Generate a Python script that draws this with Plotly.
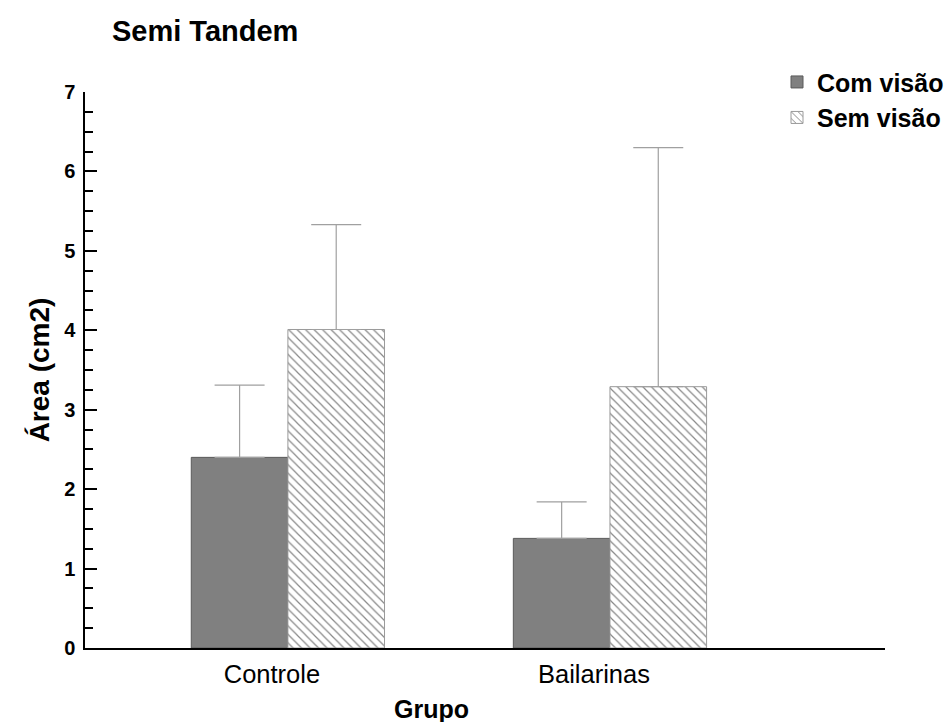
import plotly.graph_objects as go

# Balance sway area by group, with and without vision (mean + SD)
grupos = ["Controle", "Bailarinas"]
com_visao = [2.40, 1.38]
com_visao_dp = [0.91, 0.46]
sem_visao = [4.01, 3.29]
sem_visao_dp = [1.32, 3.01]
y_ticks = [0, 1, 2, 3, 4, 5, 6, 7]

FONT = "Liberation Sans, Arial, sans-serif"

fig = go.Figure()

fig.add_trace(go.Bar(
    name="<b>Com visão</b>",
    x=grupos,
    y=com_visao,
    marker=dict(color="#808080", line=dict(color="#5a5a5a", width=1)),
    error_y=dict(type="data", array=com_visao_dp, arrayminus=[0] * len(grupos),
                 symmetric=False, color="#a0a0a0", thickness=1.2, width=25),
))

fig.add_trace(go.Bar(
    name="<b>Sem visão</b>",
    x=grupos,
    y=sem_visao,
    marker=dict(
        color="white",
        line=dict(color="#9a9a9a", width=1),
        pattern=dict(shape="\\", size=6, solidity=0.2,
                     fgcolor="#888888", bgcolor="white", fillmode="replace"),
    ),
    error_y=dict(type="data", array=sem_visao_dp, arrayminus=[0] * len(grupos),
                 symmetric=False, color="#a0a0a0", thickness=1.2, width=25),
))

fig.update_layout(
    width=951,
    height=722,
    paper_bgcolor="white",
    plot_bgcolor="white",
    barmode="group",
    bargap=0.4,
    bargroupgap=0,
    margin=dict(l=85, r=66, t=92, b=74, autoexpand=False),
    font=dict(family=FONT, color="black"),
    title=dict(text="<b>Semi Tandem</b>", font=dict(size=29, family=FONT),
               x=112 / 951, xref="container", xanchor="left",
               y=1 - 31 / 722, yref="container", yanchor="middle"),
    legend=dict(
        x=0.865, y=1.059, xanchor="left", yanchor="top",
        font=dict(size=25, family=FONT),
        bgcolor="rgba(0,0,0,0)",
        itemwidth=30,
        tracegroupgap=0,
    ),
    showlegend=True,
    annotations=[dict(
        text="<b>Grupo</b>", xref="paper", yref="paper",
        x=0.4325, y=-0.1097, xanchor="center", yanchor="middle",
        showarrow=False, font=dict(size=25, family=FONT),
    )],
)

fig.update_xaxes(
    range=[-0.63, 1.854],
    showline=True, linecolor="black", linewidth=1.5,
    ticks="", showgrid=False, zeroline=False,
    tickfont=dict(size=25.5, family=FONT),
    ticklabelshift=-16, ticklabelstandoff=3,
)

fig.update_yaxes(
    range=[0, 7],
    tickvals=y_ticks,
    ticktext=[f"<b>{v}</b>" for v in y_ticks],
    showline=True, linecolor="black", linewidth=1.5,
    ticks="inside", ticklen=12, tickwidth=1.5, tickcolor="black",
    minor=dict(dtick=0.25, ticks="inside", ticklen=8, tickwidth=1.5,
               tickcolor="black", showgrid=False),
    showgrid=False, zeroline=False,
    tickfont=dict(size=20, family=FONT),
    ticklabelstandoff=4,
    title=dict(text="<b>Área (cm2)</b>", font=dict(size=28, family=FONT), standoff=6),
)

fig.write_html("out.html")
